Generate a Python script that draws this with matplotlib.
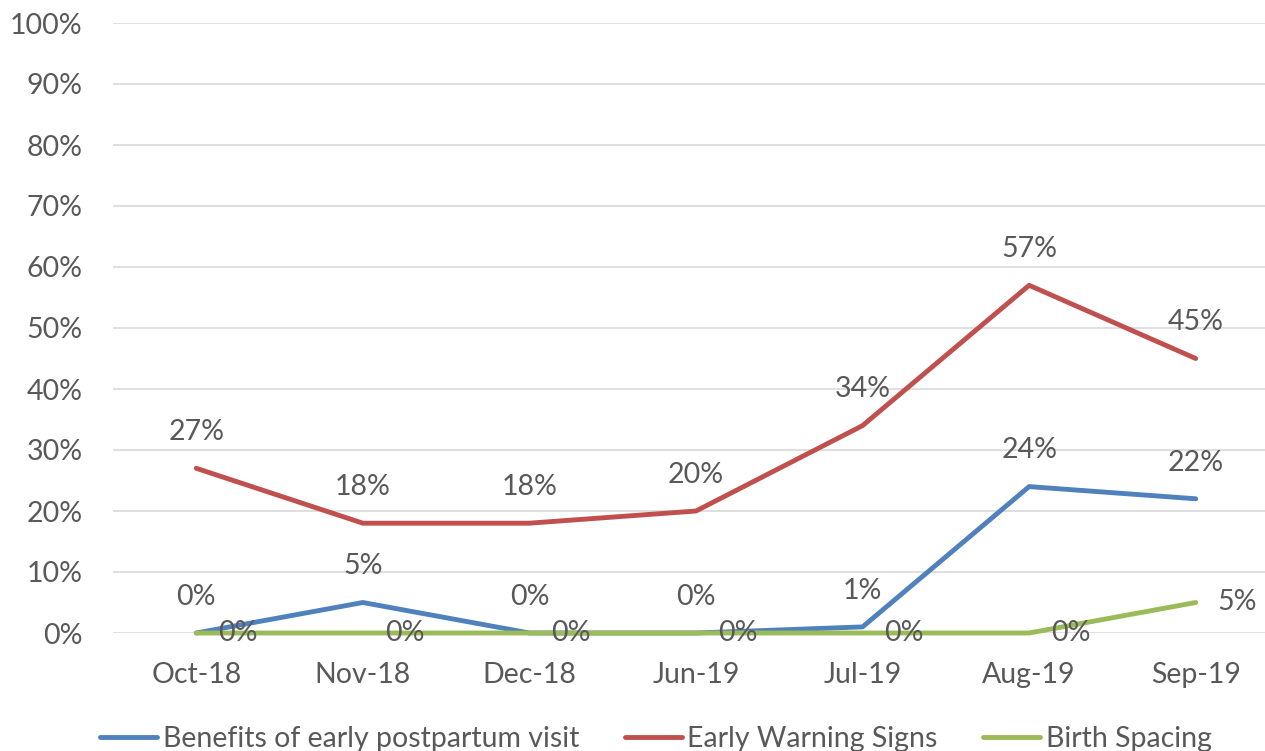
import matplotlib
matplotlib.use("Agg")
import matplotlib.pyplot as plt
from matplotlib.ticker import PercentFormatter

months = ["Oct-18", "Nov-18", "Dec-18", "Jun-19", "Jul-19", "Aug-19", "Sep-19"]
postpartum = [0, 5, 0, 0, 1, 24, 22]
warning_signs = [27, 18, 18, 20, 34, 57, 45]
birth_spacing = [0, 0, 0, 0, 0, 0, 5]
series_names = ["Benefits of early postpartum visit", "Early Warning Signs", "Birth Spacing"]

plt.rcParams["font.family"] = ["Lato", "DejaVu Sans"]
text_color = "#595959"
fs = 20.5

fig = plt.figure(figsize=(12.65, 7.51), dpi=100)
ax = fig.add_axes([113 / 1265, 118 / 751, 1166 / 1265, 610 / 751])

x = list(range(len(months)))
blue, red, green = "#4F81BD", "#C0504D", "#9BBB59"
lw = 3.5

line_kw = dict(lw=lw, solid_capstyle="round", solid_joinstyle="round", clip_on=False)
l1, = ax.plot(x, postpartum, color=blue, zorder=3, label=series_names[0], **line_kw)
l2, = ax.plot(x, warning_signs, color=red, zorder=3, label=series_names[1], **line_kw)
l3, = ax.plot(x, birth_spacing, color=green, zorder=4, label=series_names[2], **line_kw)

for xi, v in zip(x, postpartum):
    ax.annotate(f"{v}%", (xi, v), xytext=(0, 26), textcoords="offset points",
                ha="center", va="center", fontsize=fs, color=text_color, zorder=5)
for xi, v in zip(x, warning_signs):
    ax.annotate(f"{v}%", (xi, v), xytext=(0, 26), textcoords="offset points",
                ha="center", va="center", fontsize=fs, color=text_color, zorder=5)
for xi, v in zip(x, birth_spacing):
    ax.annotate(f"{v}%", (xi, v), xytext=(30, 0), textcoords="offset points",
                ha="center", va="center", fontsize=fs, color=text_color, zorder=5)

ax.set_xlim(-0.5, len(months) - 0.5)
ax.set_ylim(0, 100)
ax.set_yticks(range(0, 101, 10))
ax.yaxis.set_major_formatter(PercentFormatter(decimals=0))
ax.set_xticks(x)
ax.set_xticklabels(months)
ax.tick_params(axis="both", length=0, labelsize=fs, labelcolor=text_color)
ax.tick_params(axis="x", pad=21)
ax.tick_params(axis="y", pad=22)
ax.grid(axis="y", color="#D9D9D9", lw=1.2, zorder=0)
for s in ax.spines.values():
    s.set_visible(False)

fig.legend(handles=[l1, l2, l3], loc="center left", bbox_to_anchor=(100 / 1265, 1 - 739 / 751),
           ncol=3, frameon=False, fontsize=fs, labelcolor=text_color,
           handlelength=2.0, handletextpad=0.2, columnspacing=1.6, borderaxespad=0, borderpad=0)

fig.savefig("out.png", dpi=100)
